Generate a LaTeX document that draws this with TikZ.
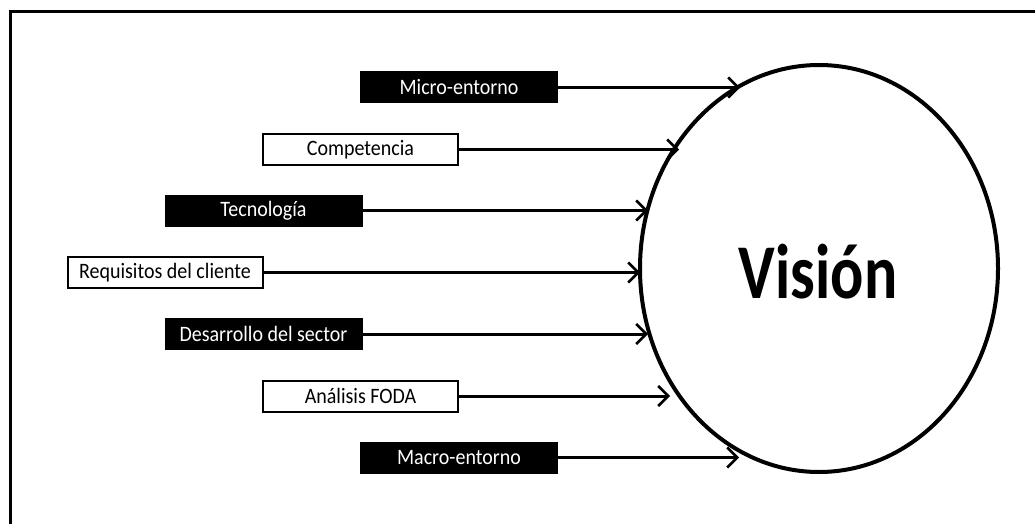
\documentclass[tikz,border=0pt]{standalone}
\usepackage{fontspec}
\setmainfont{Carlito}
\usetikzlibrary{arrows.meta,shapes.geometric}

\tikzset{
  darkbox/.style={fill=black, draw=black, line width=1pt, text=white,
    minimum width=197pt, minimum height=31pt, inner sep=0pt,
    font=\fontsize{20}{23}\selectfont},
  lightbox/.style={fill=white, draw=black, line width=2pt, text=black,
    minimum width=195pt, minimum height=31pt, inner sep=0pt,
    font=\fontsize{20}{23}\selectfont},
  feed/.style={line width=3pt, -{Straight Barb[length=10pt, width=20pt, line width=2.5pt]}},
}
\newcommand{\tallish}[1]{\scalebox{1}[1.1]{#1}}

\begin{document}
\begin{tikzpicture}[x=1pt, y=-1pt]
  \useasboundingbox (0,0) rectangle (1035,524);
  \fill[white] (0,0) rectangle (1035,524);

  % open frame: left and top edges
  \draw[line width=3pt] (10,524) -- (10,12) -- (1035,12);

  % central ellipse
  \node[ellipse, draw, line width=4pt, minimum width=358pt, minimum height=407pt,
        inner sep=0pt] (vision) at (819,268.5) {};
  \node[inner sep=0pt, font=\fontsize{62}{70}\bfseries] (visiontxt) at (818,272)
    {\scalebox{1}[1.25]{Visión}};

  % input factors
  \node[darkbox]  (micro) at (459,87.5)  {\tallish{Micro-entorno}};
  \node[lightbox] (comp)  at (360.5,149.5) {\tallish{Competencia}};
  \node[darkbox]  (tecno) at (263.5,210.5) {\tallish{Tecnología}};
  \node[lightbox] (requi) at (165,272.5) {\tallish{Requisitos del cliente}};
  \node[darkbox]  (desa)  at (263.5,334) {\tallish{Desarrollo del sector}};
  \node[lightbox] (foda)  at (360.5,396) {\tallish{Análisis FODA}};
  \node[darkbox]  (macro) at (459,457.5) {\tallish{Macro-entorno}};

  % arrow targets on the left side of the ellipse
  \coordinate (tmicro) at (740,87.5);
  \coordinate (tcomp)  at (679,149.5);
  \coordinate (ttecno) at (648,210.5);
  \coordinate (trequi) at (640,272.5);
  \coordinate (tdesa)  at (648,334);
  \coordinate (tfoda)  at (670,396);
  \coordinate (tmacro) at (739,457.5);

  \draw[feed] (micro.east) -- (tmicro);
  \draw[feed] (comp.east)  -- (tcomp);
  \draw[feed] (tecno.east) -- (ttecno);
  \draw[feed] (requi.east) -- (trequi);
  \draw[feed] (desa.east)  -- (tdesa);
  \draw[feed] (foda.east)  -- (tfoda);
  \draw[feed] (macro.east) -- (tmacro);
\end{tikzpicture}
\end{document}
